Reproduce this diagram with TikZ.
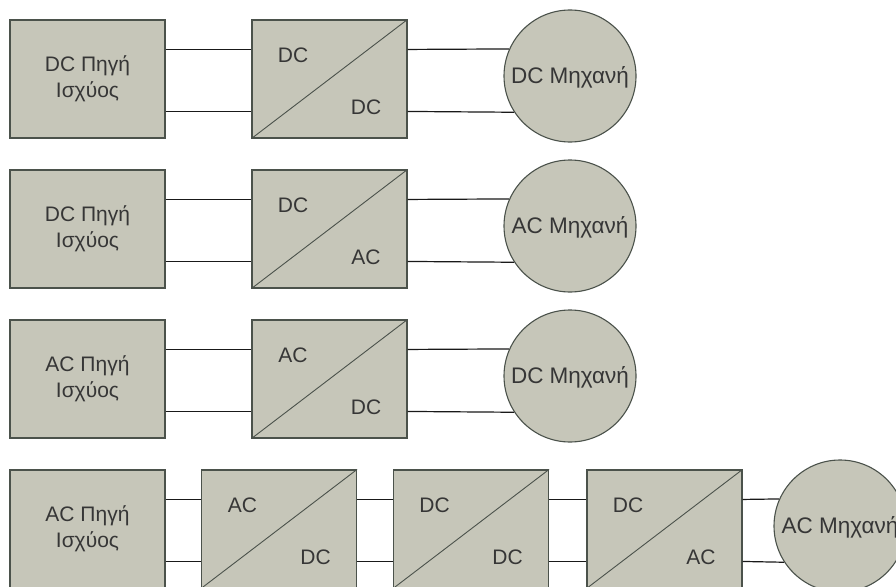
\documentclass[tikz,border=0pt]{standalone}
\usepackage{fontspec}
\setmainfont{Liberation Sans}
\usetikzlibrary{calc}

\definecolor{boxfill}{HTML}{C6C6B9}
\definecolor{boxline}{HTML}{4B524B}
\definecolor{txtgray}{HTML}{363636}

\tikzset{
  srcbox/.style={draw=boxline, fill=boxfill, line width=1.1pt,
    minimum width=155pt, minimum height=118pt, inner sep=0pt,
    align=center, text=txtgray, font=\fontsize{21}{26}\selectfont},
  convbox/.style={draw=boxline, fill=boxfill, line width=1.1pt,
    minimum width=155pt, minimum height=118pt, inner sep=0pt},
  motor/.style={circle, draw=boxline, fill=boxfill, line width=1.1pt,
    minimum size=132pt, inner sep=0pt, text=txtgray,
    text height=15pt, text depth=0pt, font=\fontsize{22.5}{26}\selectfont},
  lbl/.style={text=txtgray, inner sep=0pt, font=\fontsize{21}{26}\selectfont},
  wire/.style={draw=black!90, line width=1.2pt},
}

\begin{document}
\begin{tikzpicture}[x=1pt, y=-1pt]
\useasboundingbox (0,0) rectangle (896,586);
\clip (0,0) rectangle (896,586);

%% Row centres (box centre y), in picture pixels
\def\ra{79}
\def\rb{229}
\def\rc{379}
\def\rd{529}
%% Wire offsets from box top: 30 and 92
%% Motor: centre 3 above box centre, r = 66
%% top wire 26 above motor centre -> angle 156.8, bottom 36 below -> 213

%% ---- Row 1: DC source, DC/DC, DC motor
\node[srcbox] (s1) at (87.5,\ra) {DC Πηγή\\Ισχύος};
\node[convbox] (c1) at (329.5,\ra) {};
\draw[boxline, line width=0.9pt] (c1.south west) -- (c1.north east);
\node[lbl] (c1a) at ([shift={(-36.5,-24)}]c1.center) {DC};
\node[lbl] (c1b) at ([shift={(36.5,28)}]c1.center) {DC};
\node[motor] (m1) at (570,\ra-3) {DC Μηχανή};

\draw[wire] ([shift={(0,30)}]s1.north east) -- ([shift={(0,30)}]c1.north west);
\draw[wire] ([shift={(0,92)}]s1.north east) -- ([shift={(0,92)}]c1.north west);
\draw[wire] ([shift={(0,30)}]c1.north east) -- (m1.156.8);
\draw[wire] ([shift={(0,92)}]c1.north east) -- (m1.213);

%% ---- Row 2: DC source, DC/AC, AC motor
\node[srcbox] (s2) at (87.5,\rb) {DC Πηγή\\Ισχύος};
\node[convbox] (c2) at (329.5,\rb) {};
\draw[boxline, line width=0.9pt] (c2.south west) -- (c2.north east);
\node[lbl] (c2a) at ([shift={(-36.5,-24)}]c2.center) {DC};
\node[lbl] (c2b) at ([shift={(36.5,28)}]c2.center) {AC};
\node[motor] (m2) at (570,\rb-3) {AC Μηχανή};

\draw[wire] ([shift={(0,30)}]s2.north east) -- ([shift={(0,30)}]c2.north west);
\draw[wire] ([shift={(0,92)}]s2.north east) -- ([shift={(0,92)}]c2.north west);
\draw[wire] ([shift={(0,30)}]c2.north east) -- (m2.156.8);
\draw[wire] ([shift={(0,92)}]c2.north east) -- (m2.213);

%% ---- Row 3: AC source, AC/DC, DC motor
\node[srcbox] (s3) at (87.5,\rc) {AC Πηγή\\Ισχύος};
\node[convbox] (c3) at (329.5,\rc) {};
\draw[boxline, line width=0.9pt] (c3.south west) -- (c3.north east);
\node[lbl] (c3a) at ([shift={(-36.5,-24)}]c3.center) {AC};
\node[lbl] (c3b) at ([shift={(36.5,28)}]c3.center) {DC};
\node[motor] (m3) at (570,\rc-3) {DC Μηχανή};

\draw[wire] ([shift={(0,30)}]s3.north east) -- ([shift={(0,30)}]c3.north west);
\draw[wire] ([shift={(0,92)}]s3.north east) -- ([shift={(0,92)}]c3.north west);
\draw[wire] ([shift={(0,30)}]c3.north east) -- (m3.156.8);
\draw[wire] ([shift={(0,92)}]c3.north east) -- (m3.213);

%% ---- Row 4: AC source, AC/DC, DC/DC, DC/AC, AC motor
\node[srcbox] (s4) at (87.5,\rd) {AC Πηγή\\Ισχύος};
\node[convbox] (c4) at (279,\rd) {};
\node[convbox] (c5) at (471,\rd) {};
\node[convbox] (c6) at (664.5,\rd) {};
\draw[boxline, line width=0.9pt] (c4.south west) -- (c4.north east);
\draw[boxline, line width=0.9pt] (c5.south west) -- (c5.north east);
\draw[boxline, line width=0.9pt] (c6.south west) -- (c6.north east);
\node[lbl] (c4a) at ([shift={(-36.5,-24)}]c4.center) {AC};
\node[lbl] (c4b) at ([shift={(36.5,28)}]c4.center) {DC};
\node[lbl] (c5a) at ([shift={(-36.5,-24)}]c5.center) {DC};
\node[lbl] (c5b) at ([shift={(36.5,28)}]c5.center) {DC};
\node[lbl] (c6a) at ([shift={(-36.5,-24)}]c6.center) {DC};
\node[lbl] (c6b) at ([shift={(36.5,28)}]c6.center) {AC};
\node[motor] (m4) at (840,\rd-3) {AC Μηχανή};

\draw[wire] ([shift={(0,30)}]s4.north east) -- ([shift={(0,30)}]c4.north west);
\draw[wire] ([shift={(0,92)}]s4.north east) -- ([shift={(0,92)}]c4.north west);
\draw[wire] ([shift={(0,30)}]c4.north east) -- ([shift={(0,30)}]c5.north west);
\draw[wire] ([shift={(0,92)}]c4.north east) -- ([shift={(0,92)}]c5.north west);
\draw[wire] ([shift={(0,30)}]c5.north east) -- ([shift={(0,30)}]c6.north west);
\draw[wire] ([shift={(0,92)}]c5.north east) -- ([shift={(0,92)}]c6.north west);
\draw[wire] ([shift={(0,30)}]c6.north east) -- (m4.156.8);
\draw[wire] ([shift={(0,92)}]c6.north east) -- (m4.213);

\end{tikzpicture}
\end{document}
